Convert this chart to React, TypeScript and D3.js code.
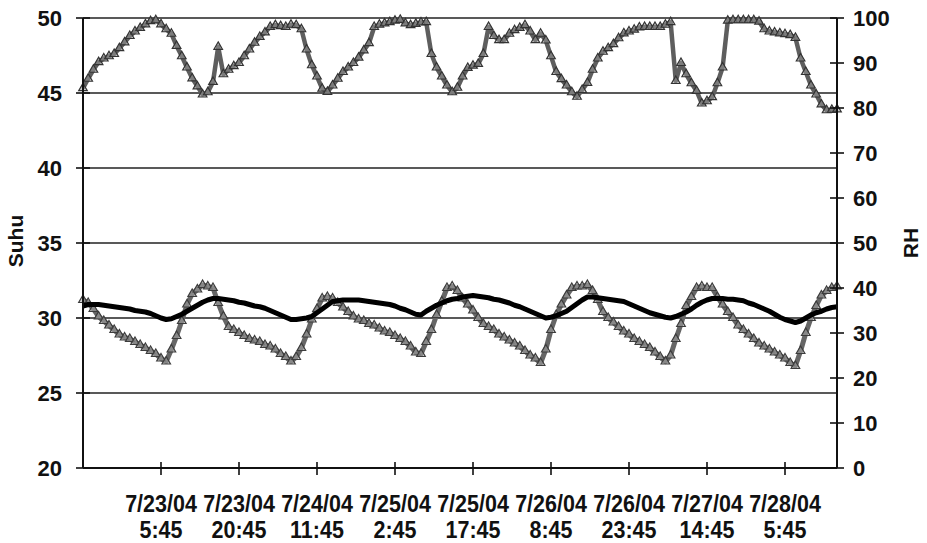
import * as d3 from 'd3';

// hourly readings, starting 7/22/04 14:45
const rh = [
  84.4, 86.5, 88.5, 90.2, 91, 91.5, 92, 93.3, 94.6, 96, 97, 97.8, 98.6, 99.3, 99.5, 98.6,
  97.5, 96.5, 93.8, 91.5, 89, 86.6, 84.8, 83, 83.5, 85.8, 93.6, 87.5, 88.5, 89.3, 90,
  91.5, 93, 94.5, 95.8, 96.8, 98, 98.4, 98.2, 98, 98.5, 98.4, 97.5, 93, 89.5, 87, 84.3,
  83.6, 85, 86.5, 88, 89, 90, 91.2, 92.8, 94.4, 98, 98.5, 98.8, 99.1, 99.4, 99.6, 98.8,
  98.4, 98.7, 99, 99.1, 92, 89, 87, 85, 83.5, 84.5, 87, 88.9, 89.4, 89.8, 92, 98, 96,
  95.1, 95.1, 96.5, 97.3, 97.8, 98.4, 97, 95.1, 96.5, 95, 91.5, 88, 86.4, 85, 83.5, 82.5,
  84, 85.6, 88.5, 91, 92.5, 93.3, 94.2, 95.5, 96.6, 97, 97.4, 97.9, 98, 98, 98, 98, 98.5,
  99.1, 86, 90, 87.5, 85.5, 83.8, 81, 81.5, 82.4, 85.5, 89, 99.4, 99.5, 99.5, 99.5, 99.5,
  99.5, 99.2, 97.5, 97, 96.8, 96.6, 96.4, 96.2, 95.6, 91, 88, 85, 83, 80.8, 79.5, 79.6, 79.7,
];

const suhuA = [
  31.2, 31.0, 30.6, 30.1, 29.8, 29.5, 29.2, 28.9, 28.7, 28.6, 28.4, 28.2, 28.0, 27.8, 27.6,
  27.3, 27.1, 27.9, 28.8, 29.8, 30.9, 31.6, 31.9, 32.2, 32.1, 32.0, 31.0, 30.1, 29.4, 29.2,
  29.0, 28.8, 28.6, 28.5, 28.4, 28.2, 28.1, 27.9, 27.6, 27.4, 27.1, 27.4, 28.0, 28.9, 29.9,
  30.6, 31.3, 31.4, 31.3, 31.0, 30.7, 30.4, 30.1, 29.9, 29.8, 29.6, 29.5, 29.3, 29.1, 29.0,
  28.8, 28.6, 28.4, 28.1, 27.7, 27.6, 28.4, 29.2, 30.2, 31.1, 32.0, 32.1, 31.8, 31.3, 30.9,
  30.5, 30.0, 29.6, 29.4, 29.2, 28.9, 28.7, 28.5, 28.3, 28.1, 27.8, 27.5, 27.3, 27.0, 27.9,
  29.2, 30.2, 30.9, 31.5, 32.0, 32.1, 32.1, 32.2, 31.8, 31.2, 30.4, 30.0, 29.7, 29.4, 29.1,
  28.9, 28.6, 28.4, 28.2, 28.0, 27.7, 27.4, 27.1, 27.5, 28.6, 29.6, 30.8, 31.4, 32.0, 32.1,
  32.0, 32.0, 31.4, 30.9, 30.4, 30.0, 29.5, 29.2, 28.9, 28.6, 28.3, 28.1, 27.9, 27.7, 27.5,
  27.3, 27.0, 26.8, 27.8, 29.0, 30.0, 30.8, 31.5, 31.8, 32.0, 32.1,
];

const suhuB = [
  30.8, 30.9, 30.9, 30.9, 30.85, 30.8, 30.75, 30.7, 30.65, 30.6, 30.5, 30.45, 30.4, 30.3,
  30.15, 30.0, 29.9, 29.95, 30.1, 30.25, 30.45, 30.65, 30.85, 31.05, 31.2, 31.3, 31.3, 31.25,
  31.2, 31.15, 31.05, 31.0, 30.9, 30.8, 30.75, 30.65, 30.5, 30.35, 30.2, 30.05, 29.9, 29.9,
  29.95, 30.0, 30.1, 30.35, 30.6, 30.85, 31.1, 31.15, 31.2, 31.2, 31.2, 31.2, 31.15, 31.1,
  31.05, 31.0, 30.95, 30.9, 30.8, 30.65, 30.55, 30.4, 30.25, 30.2, 30.45, 30.65, 30.85, 31.0,
  31.15, 31.25, 31.3, 31.4, 31.45, 31.5, 31.45, 31.4, 31.35, 31.25, 31.2, 31.1, 31.0, 30.85,
  30.75, 30.6, 30.45, 30.3, 30.15, 30.0, 30.05, 30.15, 30.3, 30.45, 30.7, 30.95, 31.2, 31.4,
  31.4, 31.35, 31.3, 31.25, 31.2, 31.15, 31.1, 30.95, 30.8, 30.65, 30.5, 30.35, 30.25, 30.15,
  30.05, 30.0, 30.1, 30.25, 30.4, 30.6, 30.85, 31.05, 31.2, 31.3, 31.3, 31.3, 31.25, 31.25,
  31.2, 31.15, 31.0, 30.9, 30.75, 30.6, 30.45, 30.25, 30.05, 29.9, 29.8, 29.7, 29.8, 30.0,
  30.2, 30.35, 30.45, 30.6, 30.7, 30.75,
];

const tickHours = [15, 30, 45, 60, 75, 90, 105, 120, 135];
const tickDates = ['7/23/04', '7/23/04', '7/24/04', '7/25/04', '7/25/04', '7/26/04', '7/26/04', '7/27/04', '7/28/04'];
const tickTimes = ['5:45', '20:45', '11:45', '2:45', '17:45', '8:45', '23:45', '14:45', '5:45'];
const leftTicks = [20, 25, 30, 35, 40, 45, 50];
const rightTicks = [0, 10, 20, 30, 40, 50, 60, 70, 80, 90, 100];

const W = 927;
const H = 543;
const margin = { top: 18, right: 90, bottom: 75, left: 83 };
const FONT = 'Arial, "Liberation Sans", sans-serif';

export default function App() {
  const x = d3.scaleLinear().domain([0, 145]).range([margin.left, W - margin.right]);
  const yL = d3.scaleLinear().domain([20, 50]).range([H - margin.bottom, margin.top]);
  const yR = d3.scaleLinear().domain([0, 100]).range([H - margin.bottom, margin.top]);

  const lineL = d3.line<number>().x((_, i) => x(i)).y(d => yL(d));
  const lineR = d3.line<number>().x((_, i) => x(i)).y(d => yR(d));
  const tri = d3.symbol().type(d3.symbolTriangle).size(32)() as string;

  const x0 = x.range()[0];
  const x1 = x.range()[1];
  const yBase = yL(20);

  // stretch a label a little taller, like the condensed original
  const tall = (cx: number, cy: number) => `translate(${cx},${cy}) scale(1,1.12) translate(${-cx},${-cy})`;

  return (
    <>
      <style>{'body{margin:0}'}</style>
      <svg width={W} height={H} style={{ display: 'block', background: '#fff' }} fontFamily={FONT} fontWeight="bold">
        {/* gridlines */}
        {leftTicks.map(t => (
          <line key={'g' + t} x1={x0} x2={x1} y1={yL(t)} y2={yL(t)} stroke="#222" strokeWidth={1.6} />
        ))}

        {/* RH */}
        <path d={lineR(rh) as string} fill="none" stroke="#5e5e5e" strokeWidth={4.5} strokeLinejoin="round" />
        {rh.map((d, i) => (
          <path key={'r' + i} d={tri} transform={`translate(${x(i)},${yR(d)})`} fill="#9a9a9a" fillOpacity={0.5} stroke="#333" strokeWidth={1.2} />
        ))}

        {/* temperature with markers */}
        <path d={lineL(suhuA) as string} fill="none" stroke="#666" strokeWidth={5} strokeLinejoin="round" />
        {suhuA.map((d, i) => (
          <path key={'a' + i} d={tri} transform={`translate(${x(i)},${yL(d)})`} fill="#aaa" fillOpacity={0.5} stroke="#3c3c3c" strokeWidth={1.2} />
        ))}

        {/* smooth temperature */}
        <path d={lineL(suhuB) as string} fill="none" stroke="#000" strokeWidth={5} strokeLinejoin="round" />

        {/* axes */}
        <line x1={x0} x2={x0} y1={margin.top} y2={yBase} stroke="#111" strokeWidth={2} />
        <line x1={x1} x2={x1} y1={margin.top} y2={yBase} stroke="#111" strokeWidth={2} />
        <line x1={x0} x2={x1} y1={yBase} y2={yBase} stroke="#111" strokeWidth={2} />

        {leftTicks.map(t => (
          <g key={'l' + t}>
            <line x1={x0 - 7} x2={x0 + 7} y1={yL(t)} y2={yL(t)} stroke="#111" strokeWidth={1.6} />
            <text x={x0 - 21} y={yL(t)} dy="0.36em" textAnchor="end" fontSize={22} fill="#111">{t}</text>
          </g>
        ))}

        {rightTicks.map(t => (
          <g key={'rt' + t}>
            <line x1={x1 - 7} x2={x1 + 7} y1={yR(t)} y2={yR(t)} stroke="#111" strokeWidth={1.6} />
            <text x={x1 + 16} y={yR(t)} dy="0.36em" textAnchor="start" fontSize={22} fill="#111">{t}</text>
          </g>
        ))}

        {tickHours.map((h, i) => (
          <g key={'x' + h}>
            <line x1={x(h)} x2={x(h)} y1={yBase - 6} y2={yBase + 7} stroke="#111" strokeWidth={1.6} />
            <text x={x(h)} y={512} textAnchor="middle" fontSize={21.5} fill="#111" transform={tall(x(h), 512)}>{tickDates[i]}</text>
            <text x={x(h)} y={538} textAnchor="middle" fontSize={21.5} fill="#111" transform={tall(x(h), 538)}>{tickTimes[i]}</text>
          </g>
        ))}

        <text transform="translate(23,241) rotate(-90)" textAnchor="middle" fontSize={21} fill="#111">Suhu</text>
        <text transform="translate(918,243) rotate(-90)" textAnchor="middle" fontSize={21} fill="#111">RH</text>
      </svg>
    </>
  );
}
